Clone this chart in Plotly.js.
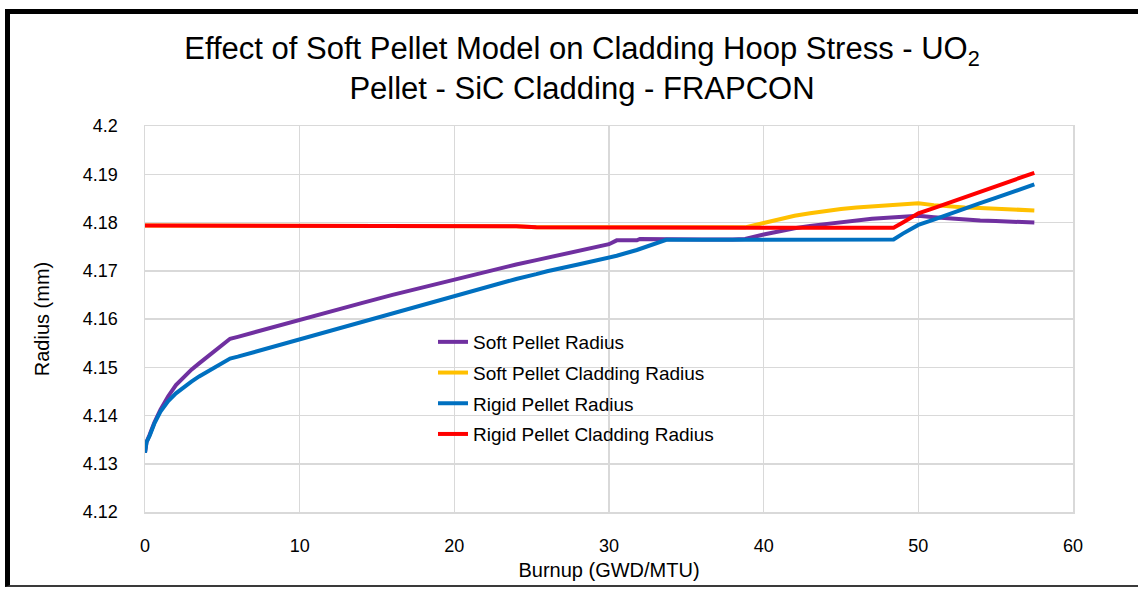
<!DOCTYPE html>
<html>
<head>
<meta charset="utf-8">
<script src="https://cdn.plot.ly/plotly-3.0.1.min.js"></script>
<style>
  html, body { margin: 0; padding: 0; background: #fff; }
  #wrap { position: relative; width: 1138px; height: 589px; overflow: hidden; }
  #chart { position: absolute; left: 0; top: 0; width: 1138px; height: 589px; }
  #frame { position: absolute; left: 5px; top: 9px; width: 1140px; height: 578px;
           border-top: 5px solid #000; border-left: 5px solid #000; border-bottom: 2px solid #3a3a3a;
           box-sizing: border-box; pointer-events: none; }
</style>
</head>
<body>
<div id="wrap">
  <div id="chart"></div>
  <div id="frame"></div>
</div>
<script>
// Burnup (GWD/MTU)
const burnup = [0, 0.1, 0.3, 0.6, 1.0, 1.5, 2.0, 2.5, 3.0, 3.5, 4.0, 4.5, 5.0, 5.5,
  6, 8, 10, 12, 14, 16, 18, 20, 22, 24, 25.3, 26, 28, 30, 30.5, 31.8, 32, 33.7, 36, 38, 38.8,
  40, 41, 42, 43, 44, 45, 46, 47, 48, 48.4, 49, 50, 51, 52, 53, 54, 55, 56, 57.5];

const softPelletRadius = [4.1323, 4.1345, 4.1360, 4.1385, 4.1412, 4.1440, 4.1463, 4.1480, 4.1495, 4.1508, 4.1521, 4.1534, 4.1547, 4.1559,
  4.1563, 4.1581, 4.1599, 4.1615, 4.1633, 4.1650, 4.1666, 4.1682, 4.1698, 4.1713, 4.1722, 4.1727, 4.1741, 4.1755, 4.1763, 4.1763, 4.1766, 4.1765, 4.1765, 4.1765, 4.1766,
  4.1775, 4.1782, 4.1788, 4.1793, 4.1797, 4.1801, 4.1805, 4.1808, 4.1810, 4.1811, 4.1812, 4.1814, 4.1811, 4.1808, 4.1806, 4.1804, 4.1803, 4.1801, 4.1800];

const softCladdingRadius = [4.1794, 4.1794, 4.1793, 4.1793, 4.1793, 4.1793, 4.1793, 4.1793, 4.1793, 4.1793, 4.1793, 4.1793, 4.1793, 4.1793,
  4.1793, 4.1793, 4.1793, 4.1793, 4.1793, 4.1792, 4.1792, 4.1792, 4.1792, 4.1792, 4.1790, 4.1790, 4.1790, 4.1790, 4.1790, 4.1790, 4.1790, 4.1790, 4.1790, 4.1790, 4.1790,
  4.1799, 4.1807, 4.1814, 4.1819, 4.1824, 4.1828, 4.1831, 4.1833, 4.1835, 4.1836, 4.1838, 4.1840, 4.1836, 4.1833, 4.1831, 4.1830, 4.1828, 4.1827, 4.1825];

const rigidPelletRadius = [4.1323, 4.1345, 4.1358, 4.1383, 4.1408, 4.1430, 4.1446, 4.1459, 4.1470, 4.1481, 4.1490, 4.1500, 4.1509, 4.1518,
  4.1522, 4.1540, 4.1559, 4.1577, 4.1594, 4.1612, 4.1630, 4.1648, 4.1666, 4.1683, 4.1693, 4.1699, 4.1713, 4.1727, 4.1731, 4.1743, 4.1745, 4.1764, 4.1764, 4.1764, 4.1764,
  4.1764, 4.1764, 4.1764, 4.1764, 4.1764, 4.1764, 4.1764, 4.1764, 4.1764, 4.1765, 4.1777, 4.1795, 4.1806, 4.1818, 4.1829, 4.1840, 4.1851, 4.1862, 4.1879];

const rigidCladdingRadius = [4.1794, 4.1794, 4.1793, 4.1793, 4.1793, 4.1793, 4.1793, 4.1793, 4.1793, 4.1793, 4.1793, 4.1793, 4.1793, 4.1793,
  4.1793, 4.1793, 4.1793, 4.1793, 4.1793, 4.1792, 4.1792, 4.1792, 4.1792, 4.1792, 4.1790, 4.1790, 4.1790, 4.1790, 4.1790, 4.1790, 4.1790, 4.1790, 4.1790, 4.1790, 4.1790,
  4.1790, 4.1790, 4.1790, 4.1790, 4.1790, 4.1790, 4.1790, 4.1790, 4.1790, 4.1789, 4.1800, 4.1819, 4.1830, 4.1841, 4.1852, 4.1864, 4.1875, 4.1886, 4.1903];

const seriesNames = ["Soft Pellet Radius", "Soft Pellet Cladding Radius", "Rigid Pellet Radius", "Rigid Pellet Cladding Radius"];
const seriesValues = [softPelletRadius, softCladdingRadius, rigidPelletRadius, rigidCladdingRadius];
const seriesColors = ["#7030A0", "#FFC000", "#0070C0", "#FF0000"];

const xTicks = [0, 10, 20, 30, 40, 50, 60];
const yTicks = [4.12, 4.13, 4.14, 4.15, 4.16, 4.17, 4.18, 4.19, 4.2];
const yTickText = ["4.12", "4.13", "4.14", "4.15", "4.16", "4.17", "4.18", "4.19", "4.2"];

const FONT = "Liberation Sans, Arial, sans-serif";

const traces = seriesNames.map((name, i) => ({
  type: "scatter",
  mode: "lines",
  name: name,
  x: burnup,
  y: seriesValues[i],
  legendgroup: "g" + i,
  line: { color: seriesColors[i], width: 4 }
}));

const layout = {
  width: 1138,
  height: 589,
  margin: { l: 145, r: 65, t: 126, b: 77, pad: 0 },
  paper_bgcolor: "#ffffff",
  plot_bgcolor: "#ffffff",
  font: { family: FONT, color: "#000" },
  title: {
    text: "Effect of Soft Pellet Model on Cladding Hoop Stress - UO<sub>2</sub><br>Pellet - SiC Cladding - FRAPCON",
    font: { family: FONT, size: 31, color: "#000" },
    x: 582 / 1138, xanchor: "center", xref: "container",
    y: 1 - 59 / 589, yanchor: "middle", yref: "container"
  },
  xaxis: {
    range: [0, 60],
    tickmode: "array", tickvals: xTicks,
    showgrid: true, gridcolor: "#D9D9D9", gridwidth: 1.5,
    showline: true, linecolor: "#D9D9D9", linewidth: 1.5, mirror: true,
    zeroline: false, ticks: "",
    ticklabelstandoff: 17,
    tickfont: { family: FONT, size: 18, color: "#000" },
    title: { text: "Burnup (GWD/MTU)", font: { family: FONT, size: 20, color: "#000" }, standoff: 8 }
  },
  yaxis: {
    range: [4.12, 4.2],
    tickmode: "array", tickvals: yTicks, ticktext: yTickText,
    showgrid: true, gridcolor: "#D9D9D9", gridwidth: 1.5,
    showline: true, linecolor: "#D9D9D9", linewidth: 1.5, mirror: true,
    zeroline: false, ticks: "",
    ticklabelstandoff: 22,
    tickfont: { family: FONT, size: 18, color: "#000" },
    title: { text: "Radius (mm)", font: { family: FONT, size: 20, color: "#000" }, standoff: 28 }
  },
  showlegend: true,
  legend: {
    x: (433 - 145) / 928, xanchor: "left",
    y: (512 - 323) / 386, yanchor: "top",
    bgcolor: "rgba(0,0,0,0)",
    font: { family: FONT, size: 19, color: "#000" },
    tracegroupgap: 3,
    itemwidth: 30
  }
};

Plotly.newPlot("chart", traces, layout, { displayModeBar: false, staticPlot: true });
</script>
</body>
</html>
